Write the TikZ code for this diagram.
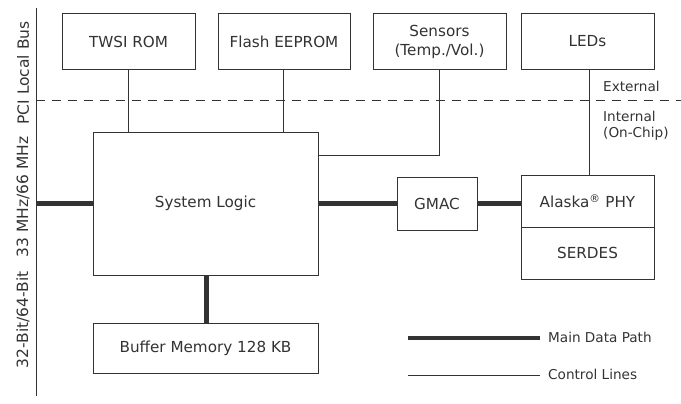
\documentclass[tikz,border=0pt]{standalone}
\usepackage{fontspec}
\setmainfont{DejaVu Sans}
\definecolor{ln}{HTML}{333333}
\begin{document}
\begin{tikzpicture}[x=1pt,y=-1pt,
  blk/.style={draw=ln,line width=0.9pt,fill=white,inner sep=0pt,font=\fontsize{15.2}{19}\selectfont,text=ln,align=center},
  thin/.style={draw=ln,line width=0.9pt},
  thick/.style={draw=ln,line width=5pt},
  lbl/.style={font=\fontsize{13.6}{16}\selectfont,text=ln,inner sep=0pt},
  side/.style={font=\fontsize{15.5}{17}\selectfont,text=ln,rotate=90,inner sep=0pt}]
\useasboundingbox (0,0) rectangle (681,404);
% left bus
\draw[thin] (36,8) -- (36,396);
\node[side] (t1) at (23,73) {PCI Local Bus};
\node[side] (t2) at (23,197) {33 MHz/66 MHz};
\node[side] (t3) at (23,320) {32-Bit/64-Bit};
% dashed boundary
\draw[ln,line width=0.9pt,dash pattern=on 9pt off 7pt] (36,100) -- (681,100);
\node[lbl,anchor=west] (ext) at (603,86) {External};
\node[lbl,anchor=north west,align=left] (int) at (603,111) {Internal\\(On-Chip)};
% top boxes
\node[blk,minimum width=133pt,minimum height=56pt] (twsi) at (128.5,41.5) {TWSI ROM};
\node[blk,minimum width=132pt,minimum height=56pt] (flash) at (284,41.5) {Flash EEPROM};
\node[blk,minimum width=133pt,minimum height=56pt] (sens) at (439.5,41.5) {Sensors\\(Temp./Vol.)};
\node[blk,minimum width=133pt,minimum height=56pt] (leds) at (587.5,41.5) {LEDs};
% system logic
\node[blk,minimum width=225pt,minimum height=143pt] (sys) at (205.5,203.5) {System Logic};
\node[blk,minimum width=225pt,minimum height=50pt] (buf) at (205.5,348) {Buffer Memory 128 KB};
\node[blk,minimum width=80pt,minimum height=53pt] (gmac) at (437,203.5) {GMAC};
\node[blk,minimum width=133pt,minimum height=52pt] (phy) at (587.5,201) {Alaska\textsuperscript{®} PHY};
\node[blk,minimum width=133pt,minimum height=52pt] (ser) at (587.5,253) {SERDES};
% control lines
\draw[thin] (twsi.south -| 128,0) -- (sys.north -| 128,0);
\draw[thin] (flash.south -| 283,0) -- (sys.north -| 283,0);
\coordinate (sc) at (439,155);
\draw[thin] (sens.south -| sc) -- (sc) -- (sys.east |- sc);
\draw[thin] (leds.south -| 589,0) -- (phy.north -| 589,0);
% main data path
\coordinate (busL) at (36,203);
\draw[thick] (busL) -- (sys.west |- busL);
\draw[thick] (sys.east |- busL) -- (gmac.west |- busL);
\draw[thick] (gmac.east |- busL) -- (phy.west |- busL);
\draw[thick] (sys.south -| 206,0) -- (buf.north -| 206,0);
% legend
\coordinate (l1a) at (408,338); \coordinate (l1b) at (540,338);
\coordinate (l2a) at (408,375); \coordinate (l2b) at (540,375);
\draw[ln,line width=4.5pt] (l1a) -- (l1b);
\draw[thin] (l2a) -- (l2b);
\node[lbl,anchor=west] (lg1) at (548,337) {Main Data Path};
\node[lbl,anchor=west] (lg2) at (548,374) {Control Lines};
\end{tikzpicture}
\end{document}
